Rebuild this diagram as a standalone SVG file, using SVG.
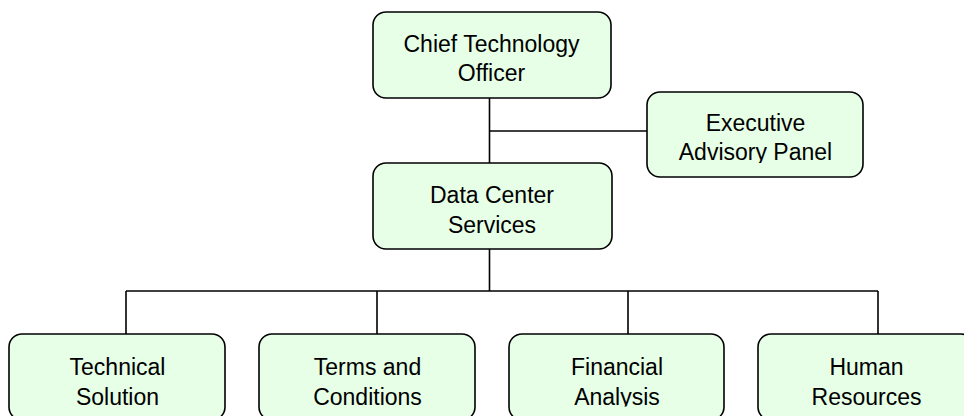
<svg xmlns="http://www.w3.org/2000/svg" width="964" height="416" viewBox="0 0 964 416">
  <style>
    .box { fill: #E6FFE6; stroke: #000; stroke-width: 1.6; }
    .lbl { font-family: "Liberation Sans", Arial, sans-serif; font-size: 23px; fill: #000; text-anchor: middle; }
    .conn { stroke: #000; stroke-width: 1.6; fill: none; }
  </style>
  <defs>
    <clipPath id="clipExec"><rect x="647" y="92" width="216" height="71"/></clipPath>
    <clipPath id="clipBottom"><rect x="0" y="334" width="964" height="72.5"/></clipPath>
  </defs>
  <rect width="964" height="416" fill="#fff"/>
  <g id="connectors">
    <path class="conn" d="M489.5 98 V163 M489.5 131 H647 M489.5 249 V291 M126 291 H878 M126 291 V334 M377 291 V334 M628 291 V334 M878 291 V334"/>
  </g>
  <g id="cto">
    <rect class="box" x="373" y="12" width="238" height="86" rx="13"/>
    <text class="lbl" x="491.5" y="52">Chief Technology</text>
    <text class="lbl" x="491.5" y="81">Officer</text>
  </g>
  <g id="exec">
    <rect class="box" x="647" y="92" width="216" height="85" rx="13"/>
    <g clip-path="url(#clipExec)">
      <text class="lbl" x="755.5" y="130.5">Executive</text>
      <text class="lbl" x="755.5" y="160">Advisory Panel</text>
    </g>
  </g>
  <g id="dcs">
    <rect class="box" x="373" y="163" width="239" height="86" rx="13"/>
    <text class="lbl" x="492" y="203">Data Center</text>
    <text class="lbl" x="492" y="233">Services</text>
  </g>
  <g id="tech">
    <rect class="box" x="9" y="334" width="216" height="86" rx="13"/>
    <g clip-path="url(#clipBottom)">
      <text class="lbl" x="117.5" y="374.5">Technical</text>
      <text class="lbl" x="117.5" y="405">Solution</text>
    </g>
  </g>
  <g id="terms">
    <rect class="box" x="259" y="334" width="216" height="86" rx="13"/>
    <g clip-path="url(#clipBottom)">
      <text class="lbl" x="367.5" y="374.5">Terms and</text>
      <text class="lbl" x="367.5" y="405">Conditions</text>
    </g>
  </g>
  <g id="fin">
    <rect class="box" x="509" y="334" width="215" height="86" rx="13"/>
    <g clip-path="url(#clipBottom)">
      <text class="lbl" x="617" y="374.5">Financial</text>
      <text class="lbl" x="617" y="405">Analysis</text>
    </g>
  </g>
  <g id="hr">
    <rect class="box" x="758" y="334" width="216" height="86" rx="13"/>
    <g clip-path="url(#clipBottom)">
      <text class="lbl" x="866.5" y="374.5">Human</text>
      <text class="lbl" x="866.5" y="405">Resources</text>
    </g>
  </g>
</svg>
